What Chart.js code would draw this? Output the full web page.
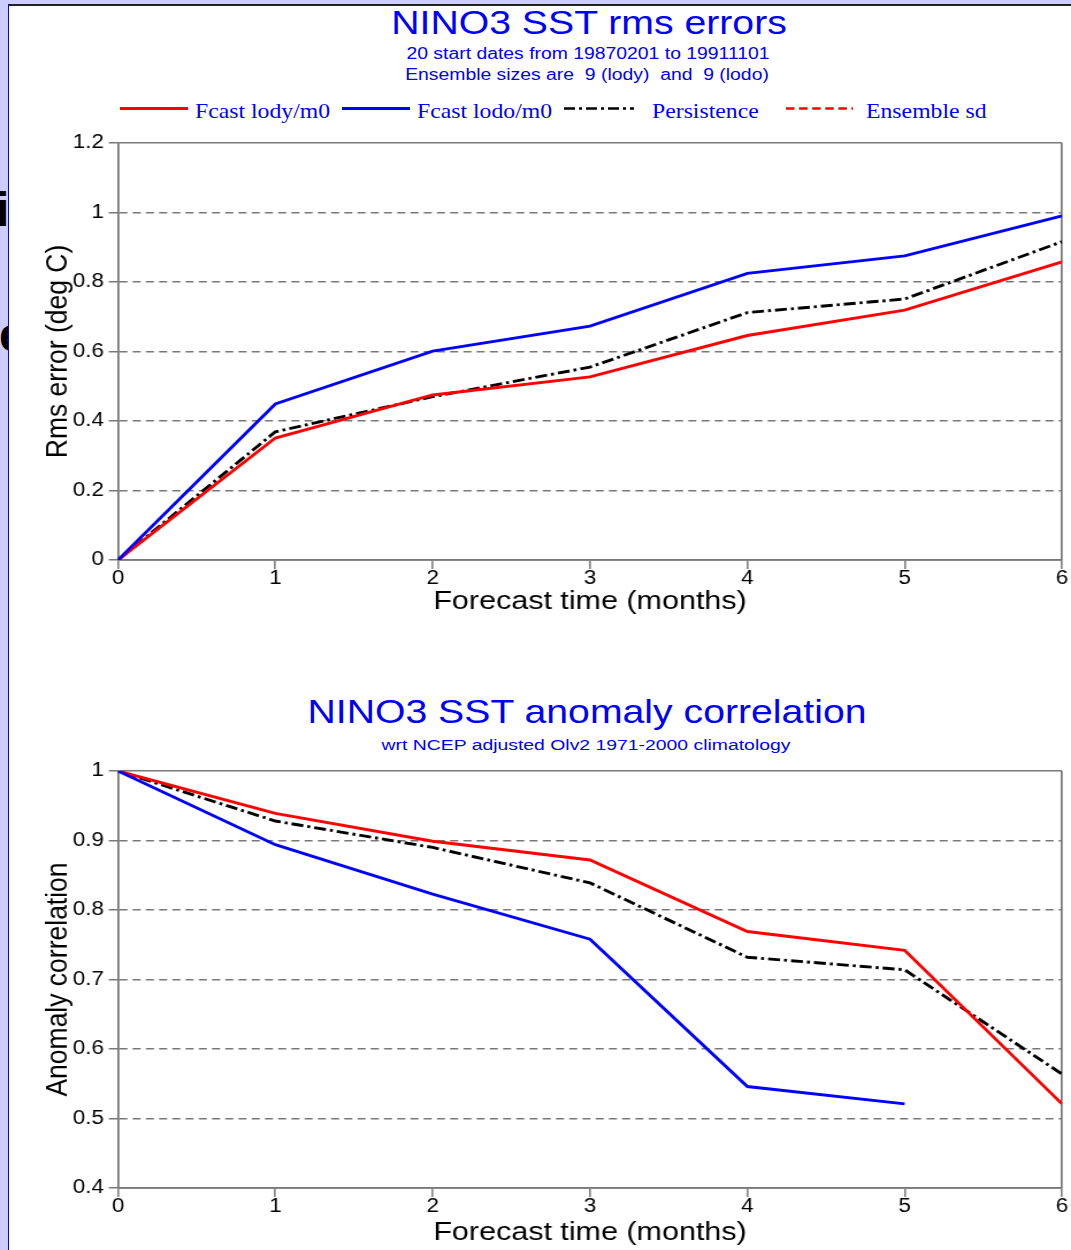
<!DOCTYPE html>
<html>
  <head>
    <script src="https://cdn.jsdelivr.net/npm/chart.js@4.4.0/dist/chart.umd.min.js"></script>
    <style>
      body {
        margin: 0;
        width: 1071px;
        height: 1250px;
        overflow: hidden;
        position: relative;
        background: #fff;
        font-family: "Liberation Sans", Arial, sans-serif;
      }

      /* slide frame round the picture */
      .frame-top {
        position: absolute; left: 0; top: 0;
        width: 1071px; height: 4px; background: #ccccff;
      }
      .frame-top-line {
        position: absolute; left: 8px; top: 4px;
        width: 1063px; height: 1.5px; background: #222;
      }
      .frame-left {
        position: absolute; left: 0; top: 0;
        width: 7.5px; height: 1250px; background: #ccccff;
        overflow: hidden;
      }
      .frame-left-line {
        position: absolute; left: 7.5px; top: 4px;
        width: 1.5px; height: 1246px; background: #0000ff;
      }
      .frame-left span {
        position: absolute;
        font-size: 48px; line-height: 1; font-weight: bold; color: #000;
      }

      .ctext {
        position: absolute;
        white-space: pre;
        line-height: 1;
        color: #0000ff;
      }
      .legend-text {
        position: absolute;
        white-space: pre;
        line-height: 1;
        color: #0000ff;
        font-family: "Liberation Serif", "Times New Roman", serif;
        font-size: 21px;
        top: 100.5px;
        transform-origin: 0 0;
        transform: scaleX(1.13);
      }

      canvas {
        position: absolute;
        left: 0;
      }
    </style>
  </head>
  <body>
    <div class="frame-top"></div>
    <div class="frame-top-line"></div>
    <div class="frame-left">
      <span style="left: -4px; top: 186px">i</span>
      <span style="left: -1px; top: 311px">e</span>
    </div>
    <div class="frame-left-line"></div>

    <!-- top panel titles -->
    <div class="ctext" style="left: 588.5px; top: 6px; font-size: 33.5px; transform: translateX(-50%) scaleX(1.17)">NINO3 SST rms errors</div>
    <div class="ctext" style="left: 588px; top: 46.2px; font-size: 16px; transform: translateX(-50%) scaleX(1.21)">20 start dates from 19870201 to 19911101</div>
    <div class="ctext" style="left: 586.5px; top: 67px; font-size: 16px; transform: translateX(-50%) scaleX(1.21)">Ensemble sizes are  9 (lody)  and  9 (lodo)</div>

    <!-- legend -->
    <svg style="position: absolute; left: 0; top: 0" width="1071" height="130">
      <line x1="120" y1="108.5" x2="188" y2="108.5" stroke="#ff0000" stroke-width="3" />
      <line x1="342" y1="108.5" x2="410" y2="108.5" stroke="#0000ff" stroke-width="3" />
      <line x1="564" y1="108.5" x2="634" y2="108.5" stroke="#000" stroke-width="2.6" stroke-dasharray="11 4 3 4" />
      <line x1="786" y1="108.5" x2="853" y2="108.5" stroke="#ff0000" stroke-width="2.6" stroke-dasharray="8.5 4.6" />
    </svg>
    <div class="legend-text" style="left: 195px">Fcast lody/m0</div>
    <div class="legend-text" style="left: 417px">Fcast lodo/m0</div>
    <div class="legend-text" style="left: 652px">Persistence</div>
    <div class="legend-text" style="left: 866px">Ensemble sd</div>

    <!-- bottom panel titles -->
    <div class="ctext" style="left: 587px; top: 694.5px; font-size: 33.5px; transform: translateX(-50%) scaleX(1.17)">NINO3 SST anomaly correlation</div>
    <div class="ctext" style="left: 585.5px; top: 737px; font-size: 15.5px; transform: translateX(-50%) scaleX(1.25)">wrt NCEP adjusted Olv2 1971-2000 climatology</div>

    <!-- canvases are drawn narrow and stretched sideways, like the original plot -->
    <canvas id="rmsChart" width="931" height="540" style="top: 100px; width: 1071px; height: 540px"></canvas>
    <canvas id="accChart" width="931" height="522" style="top: 728px; width: 1071px; height: 522px"></canvas>

    <script>
      // forecast months
      var months = [0, 1, 2, 3, 4, 5, 6];
      var monthLabels = ["0", "1", "2", "3", "4", "5", "6"];

      // rms errors (deg C)
      var rmsLody = [0, 0.351, 0.475, 0.527, 0.646, 0.719, 0.858];
      var rmsLodo = [0, 0.449, 0.601, 0.673, 0.825, 0.875, 0.99];
      var rmsPersistence = [0, 0.369, 0.47, 0.555, 0.712, 0.751, 0.916];
      var rmsTicks = [0, 0.2, 0.4, 0.6, 0.8, 1, 1.2];
      var rmsTickLabels = ["0", "0.2", "0.4", "0.6", "0.8", "1", "1.2"];

      // anomaly correlation
      var accLody = [1, 0.939, 0.899, 0.872, 0.769, 0.742, 0.521];
      var accLodo = [1, 0.894, 0.823, 0.758, 0.546, 0.521, null];
      var accPersistence = [1, 0.928, 0.89, 0.839, 0.732, 0.714, 0.564];
      var accTicks = [0.4, 0.5, 0.6, 0.7, 0.8, 0.9, 1];
      var accTickLabels = ["0.4", "0.5", "0.6", "0.7", "0.8", "0.9", "1"];

      var STRETCH = 1071 / 931;
      var GRAY = "#787878";
      var FONT = "'Liberation Sans', Arial, sans-serif";

      function points(vals) {
        return months.map(function (m, i) {
          return { x: m, y: vals[i] };
        });
      }

      function series(vals, color, dash) {
        return {
          data: points(vals),
          borderColor: color,
          borderWidth: 2.9,
          borderDash: dash || [],
          fill: false,
          pointRadius: 0,
          tension: 0,
        };
      }

      function makeChart(id, lody, lodo, persistence, yTicks, yLabels, yTitle, xHeight, xTitlePad) {
        var lo = yTicks[0];
        var hi = yTicks[yTicks.length - 1];
        return new Chart(document.getElementById(id), {
          type: "line",
          data: {
            datasets: [
              series(lodo, "#0000ff"),
              series(lody, "#ff0000"),
              series(persistence, "#000000", [10.4, 3.5, 2.6, 3.5]),
            ],
          },
          options: {
            responsive: false,
            animation: false,
            devicePixelRatio: 1,
            layout: {
              padding: { top: 43, right: 931 - 1062 / STRETCH, left: 0, bottom: 0 },
            },
            plugins: {
              legend: { display: false },
              tooltip: { enabled: false },
            },
            scales: {
              x: {
                type: "linear",
                min: 0,
                max: 6,
                afterFit: function (scale) {
                  scale.height = xHeight;
                },
                afterBuildTicks: function (scale) {
                  scale.ticks = months.map(function (m) {
                    return { value: m };
                  });
                },
                grid: {
                  // only the right hand frame line is drawn
                  color: function (ctx) {
                    return ctx.tick && ctx.tick.value === 6 ? GRAY : "rgba(0,0,0,0)";
                  },
                  lineWidth: 1.7,
                  tickColor: GRAY,
                  tickWidth: 1.5,
                  tickLength: 9,
                },
                border: { color: GRAY, width: 1.8 },
                ticks: {
                  color: "#000",
                  font: { family: FONT, size: 19.5 },
                  padding: -2,
                  maxRotation: 0,
                  autoSkip: false,
                  callback: function (v, i) {
                    return monthLabels[i];
                  },
                },
                title: {
                  display: true,
                  text: "Forecast time (months)",
                  color: "#000",
                  font: { family: FONT, size: 26.5 },
                  padding: { top: 0, bottom: xTitlePad },
                },
              },
              y: {
                min: lo,
                max: hi,
                afterFit: function (scale) {
                  scale.width = 118 / STRETCH;
                },
                afterBuildTicks: function (scale) {
                  scale.ticks = yTicks.map(function (v) {
                    return { value: v };
                  });
                },
                grid: {
                  color: GRAY,
                  lineWidth: 1.5,
                  tickColor: GRAY,
                  tickWidth: 1.5,
                  tickLength: 8,
                  tickBorderDash: [],
                },
                border: {
                  color: GRAY,
                  width: 1.8,
                  // frame lines solid, inner grid lines dashed
                  dash: function (ctx) {
                    if (!ctx.tick) return [];
                    var v = ctx.tick.value;
                    return v === lo || v === hi ? [] : [7, 4.5];
                  },
                },
                ticks: {
                  color: "#000",
                  font: { family: FONT, size: 19.5 },
                  padding: 4.2,
                  callback: function (v, i) {
                    return yLabels[i];
                  },
                },
                title: {
                  display: true,
                  text: yTitle,
                  color: "#000",
                  font: { family: FONT, size: 26.5 },
                  padding: { top: 35, bottom: 0 },
                },
              },
            },
          },
        });
      }

      makeChart("rmsChart", rmsLody, rmsLodo, rmsPersistence, rmsTicks, rmsTickLabels, "Rms error (deg C)", 80, 22);
      makeChart("accChart", accLody, accLodo, accPersistence, accTicks, accTickLabels, "Anomaly correlation", 62, 1);
    </script>
  </body>
</html>
